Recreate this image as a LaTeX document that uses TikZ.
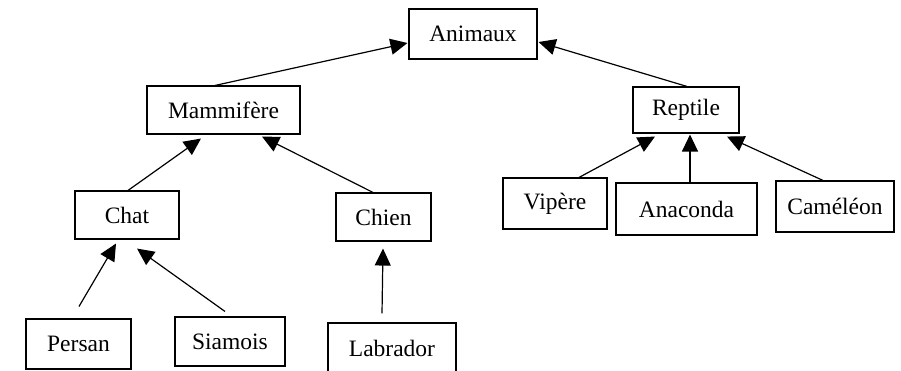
\documentclass[tikz,border=0pt]{standalone}
\usepackage{fontspec}
\setmainfont{Liberation Serif}
\usetikzlibrary{arrows.meta,calc}
\begin{document}
\begin{tikzpicture}[x=1pt,y=-1pt,
  box/.style={draw,line width=1.1pt,inner sep=0pt,font=\fontsize{23.5}{28}\selectfont},
  conn/.style={line width=1.2pt,-{Triangle[length=17pt,width=16pt]}}]
\useasboundingbox (0,0) rectangle (901,370);
\node[box,minimum width=128pt,minimum height=50pt] (anim) at (473,34) {Animaux};
\node[box,minimum width=153pt,minimum height=48pt] (mamm) at (223.5,110) {Mammifère};
\node[box,minimum width=106pt,minimum height=46pt] (rept) at (686,110) {Reptile};
\node[box,minimum width=104pt,minimum height=48pt] (chat) at (127,215) {Chat};
\node[box,minimum width=95pt,minimum height=48pt] (chien) at (383.5,217) {Chien};
\node[box,minimum width=104pt,minimum height=51pt] (vip) at (555,203.5) {Vipère};
\node[box,minimum width=141pt,minimum height=52pt] (ana) at (686.5,209) {Anaconda};
\node[box,minimum width=118pt,minimum height=51pt] (cam) at (835,206.5) {Caméléon};
\node[box,minimum width=105pt,minimum height=50pt] (pers) at (78.5,344) {Persan};
\node[box,minimum width=110pt,minimum height=49pt] (siam) at (230,341.5) {Siamois};
\node[box,minimum width=128pt,minimum height=50pt] (lab) at (392,348) {Labrador};

\draw[conn] ([xshift=-8.5pt]mamm.north) -- ([xshift=-1pt,yshift=-9pt]anim.west);
\draw[conn] ([xshift=1pt]rept.north) -- ([xshift=1pt,yshift=-8pt]anim.east);
\draw[conn] ([xshift=1pt]chat.north) -- ([xshift=-22.5pt,yshift=-4pt]mamm.south);
\draw[conn] ([xshift=-10.5pt]chien.north) -- ([xshift=38.5pt,yshift=-2pt]mamm.south);
\draw[conn] ([xshift=0.5pt,yshift=12pt]pers.north) -- ([xshift=-11pt,yshift=-4pt]chat.south);
\draw[conn] ([xshift=-5pt,yshift=5pt]siam.north) -- ([xshift=10pt,yshift=-9pt]chat.south);
\draw[conn] ([xshift=-10pt,yshift=9pt]lab.north) -- ([xshift=-0.5pt,yshift=-7pt]chien.south);
\draw[conn] ([xshift=24pt]vip.north) -- ([xshift=-31pt,yshift=-3pt]rept.south);
\draw[conn] ([xshift=3.5pt]ana.north) -- ([xshift=4pt,yshift=-1pt]rept.south);
\draw[conn] ([xshift=-12pt]cam.north) -- ([xshift=41pt,yshift=-3pt]rept.south);
\end{tikzpicture}
\end{document}
